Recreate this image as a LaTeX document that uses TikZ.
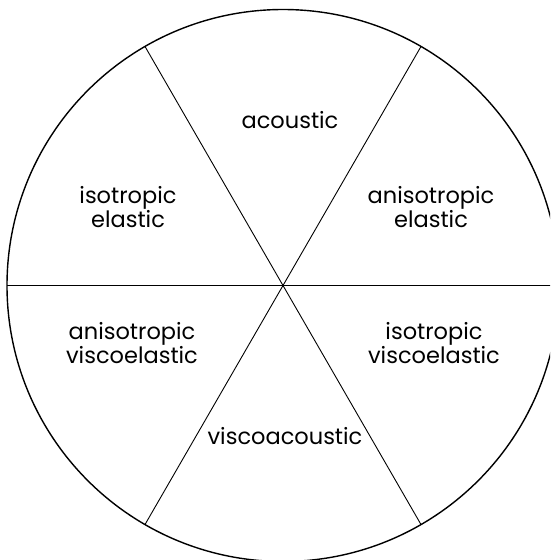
\documentclass[tikz,border=0pt]{standalone}
\usepackage{fontspec}
\setmainfont{Poppins}
\begin{document}
\begin{tikzpicture}[x=1pt,y=-1pt,
  rim/.style={line width=1.4pt},
  spoke/.style={line width=0.9pt},
  lbl/.style={align=center,inner sep=0pt,font=\fontsize{22.5}{15.5}\selectfont}]
\useasboundingbox (0,0) rectangle (550,560);
\clip (0,0) rectangle (550,560);
\coordinate (c) at (283,285.5);
\foreach \a [count=\i] in {0,60,120,180,240,300}
  \coordinate (p\i) at ([shift={(\a:276)}]c);
\draw[rim] (c) circle[radius=276];
\draw[spoke] (p1) -- (p4);
\draw[spoke] (p2) -- (p5);
\draw[spoke] (p3) -- (p6);
\node[lbl] (ac) at (290,120) {acoustic};
\node[lbl] (ie) at (128,207) {isotropic\\elastic};
\node[lbl] (ae) at (431,207) {anisotropic\\elastic};
\node[lbl] (av) at (132,343) {anisotropic\\viscoelastic};
\node[lbl] (iv) at (434,343) {isotropic\\viscoelastic};
\node[lbl] (va) at (285,436) {viscoacoustic};
\end{tikzpicture}
\end{document}
